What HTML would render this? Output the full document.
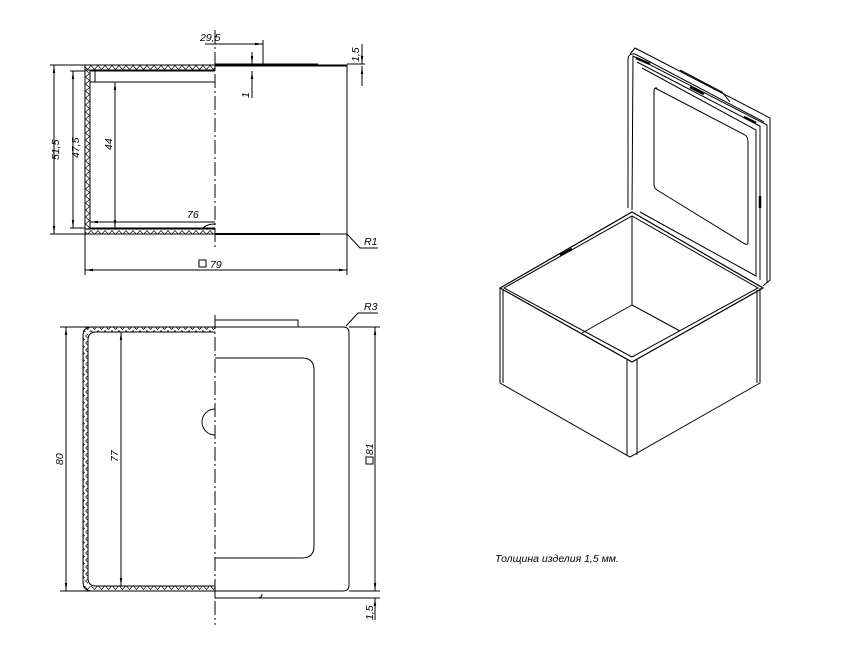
<!DOCTYPE html>
<html><head><meta charset="utf-8"><style>
html,body{margin:0;padding:0;background:#fff;}
svg{display:block;}
text{font-family:"Liberation Sans",sans-serif;font-style:italic;font-size:10.5px;fill:#000;}
</style></head><body>
<svg width="866" height="650" viewBox="0 0 866 650" xmlns="http://www.w3.org/2000/svg">
<defs>
<pattern id="zh" width="7" height="5" patternUnits="userSpaceOnUse">
<path d="M0,0.5 L3.5,4.5 L7,0.5" fill="none" stroke="#000" stroke-width="0.7"/>
</pattern>
<pattern id="zv" width="5" height="7" patternUnits="userSpaceOnUse">
<path d="M0.5,0 L4.5,3.5 L0.5,7" fill="none" stroke="#000" stroke-width="0.7"/>
</pattern>
<marker id="a" viewBox="0 0 10 10" refX="10" refY="5" markerWidth="8" markerHeight="8" orient="auto-start-reverse"><path d="M0,3.5 L10,5 L0,6.5z" fill="#000"/></marker>
</defs>
<g fill="none" stroke="#000" stroke-width="1">
<rect x="85" y="65" width="130" height="5" fill="url(#zh)"/>
<rect x="85" y="229" width="130" height="5" fill="url(#zh)"/>
<rect x="85" y="70" width="5" height="159" fill="url(#zv)"/>
<path d="M85,65 H347 V234 H85 Z"/>
<path d="M90,71 H215 M90,71 V228 H215"/>
<path d="M90,82 H215 M95,71 V82"/>
<path d="M215,64 H318 M215,66 H347"/>
<path d="M215,234 H320" stroke-width="2"/>
<path d="M203,228 Q207,224 215,224"/>
<path d="M215,30 V250" stroke-dasharray="14,3,2,3"/>
<path d="M50,65 H85 M50,234 H85 M70,71 H85 M70,228 H85"/>
<path d="M54,65 V234" marker-start="url(#a)" marker-end="url(#a)"/>
<path d="M73,71 V228" marker-start="url(#a)" marker-end="url(#a)"/>
<path d="M115,82 V228" marker-start="url(#a)" marker-end="url(#a)"/>
<path d="M215,222 H90" marker-end="url(#a)"/>
<path d="M263,40 V66"/>
<path d="M205,44 H263" marker-end="url(#a)"/>
<path d="M252,72 V98"/>
<path d="M252,52 V64" marker-end="url(#a)"/>
<path d="M252,84 V71" marker-end="url(#a)"/>
<path d="M347,64 H365"/>
<path d="M362,44 V64" marker-end="url(#a)"/>
<path d="M362,86 V66" marker-end="url(#a)"/>
<path d="M85,234 V275 M347,234 V275"/>
<path d="M85,270 H347" marker-start="url(#a)" marker-end="url(#a)"/>
<path d="M347,234 L360,248 H378"/>
<rect x="199" y="260" width="7" height="7"/>
<path d="M215,327 H92 Q83,327 83,336 V582 Q83,591 92,591 H215"/>
<path d="M215,332 H96 Q88,332 88,340 V578 Q88,586 96,586 H215"/>
<rect x="83" y="327" width="132" height="5" fill="url(#zh)" stroke="none"/>
<rect x="83" y="586" width="132" height="5" fill="url(#zh)" stroke="none"/>
<rect x="83" y="334" width="5" height="250" fill="url(#zv)" stroke="none"/>
<path d="M215,327 H343 Q349,327 349,333 V585 Q349,591 343,591 H215"/>
<path d="M215,358 H302 Q314,358 314,370 V546 Q314,558 302,558 H215"/>
<path d="M215,409 A13,13 0 0 0 215,435"/>
<path d="M215,327 V320 H298 V327"/>
<path d="M215,591 V598 H258 Q262,598 262,594"/>
<path d="M215,315 V625" stroke-dasharray="14,3,2,3"/>
<path d="M60,327 H215 M60,591 H215 M349,327 H380 M349,591 H380 M215,598 H380"/>
<path d="M66,327 V591" marker-start="url(#a)" marker-end="url(#a)"/>
<path d="M121,332 V586" marker-start="url(#a)" marker-end="url(#a)"/>
<path d="M375,327 V591" marker-start="url(#a)" marker-end="url(#a)"/>
<path d="M375,620 V598" marker-end="url(#a)"/>
<path d="M346,326 L358,313 H378"/>
<rect x="366" y="457" width="7" height="7"/>
<path d="M500,288 L632,212 L763,288 L632,362 Z" stroke-width="1.2"/>
<path d="M504,288 L632,216 L758,288 L632,357 Z"/>
<path d="M500,288 V383 L630,457 L760,383 V288"/>
<path d="M503,290 V383 M627,360 V455 M637,360 V455 M757,290 V383"/>
<path d="M632,216 V305 L582,333 M632,305 L680,331"/>
<path d="M632,210 L633,56 L767,125 V283"/>
<path d="M628,208 V60 Q628,53 635,54 L764,122"/>
<path d="M630,54 L635,48 L770,118 V280 L763,286"/>
<path d="M637,62 L760,126 V280"/>
<path d="M642,68 L756,130 V276 L640,212"/>
<path d="M655,88 L745,135 Q748,137 748,142 V242 Q748,245 745,244 L657,190 Q654,188 654,184 V92 Q654,87 657,88 Z"/>
<path d="M680,70 L722,92 L730,102"/>
<path d="M636,58 L650,64 M690,87 L704,94 M744,117 L756,123 M760,196 V208 M560,255 L572,249" stroke-width="2.5"/>
</g>
<text x="200" y="41">29,5</text>
<text transform="translate(59,160) rotate(-90)">51,5</text>
<text transform="translate(79,158) rotate(-90)">47,5</text>
<text transform="translate(112,150) rotate(-90)">44</text>
<text x="187" y="218">76</text>
<text transform="translate(249,98) rotate(-90)">1</text>
<text transform="translate(359,62) rotate(-90)">1,5</text>
<text x="210" y="268">79</text>
<text x="364" y="245">R1</text>
<text x="364" y="310">R3</text>
<text transform="translate(63,465) rotate(-90)">80</text>
<text transform="translate(118,462) rotate(-90)">77</text>
<text transform="translate(373,455) rotate(-90)">81</text>
<text transform="translate(373,620) rotate(-90)">1,5</text>
<text x="495" y="562">Толщина изделия 1,5 мм.</text>
</svg>
</body></html>
